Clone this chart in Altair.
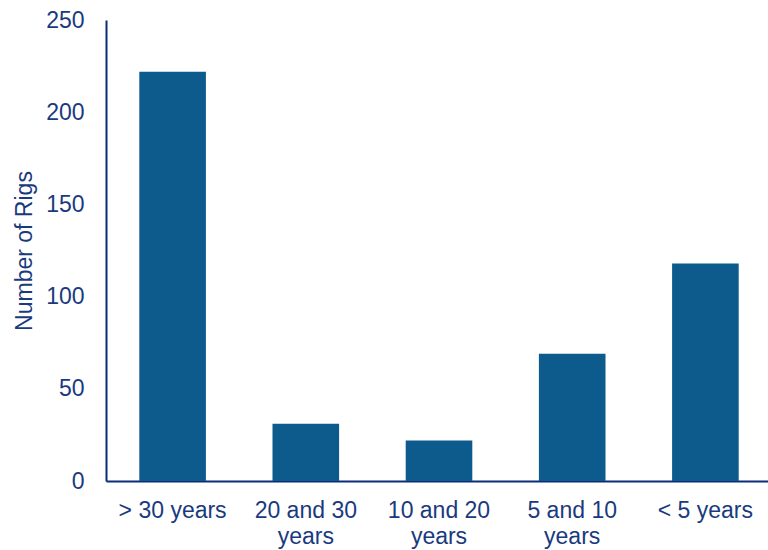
import altair as alt
import pandas as pd

# Rig counts by age bracket
age_groups = ["> 30 years", "20 and 30 years", "10 and 20 years", "5 and 10 years", "< 5 years"]
rig_counts = [222, 31, 22, 69, 118]
y_ticks = [0, 50, 100, 150, 200, 250]

df = pd.DataFrame({"age": age_groups, "rigs": rig_counts})

navy = "#0b2d78"
text_col = "#1a3a7e"
bar_col = "#0d5a8c"

chart = (
    alt.Chart(df)
    .mark_bar(color=bar_col)
    .encode(
        x=alt.X(
            "age:N",
            sort=age_groups,
            title=None,
            scale=alt.Scale(paddingInner=0.5, paddingOuter=0.25, range=[0, 666]),
            axis=alt.Axis(
                labelAngle=0,
                ticks=False,
                tickSize=0,
                labelPadding=18,
                labelFontSize=23,
                labelLineHeight=26,
                labelColor=text_col,
                labelFont="Liberation Sans",
                labelExpr="length(datum.label) > 10 ? [replace(datum.label, ' years', ''), 'years'] : datum.label",
                domainColor=navy,
                domainWidth=2,
                labelLimit=300,
            ),
        ),
        y=alt.Y(
            "rigs:Q",
            title="Number of Rigs",
            scale=alt.Scale(domain=[0, 250], nice=False),
            axis=alt.Axis(
                values=y_ticks,
                grid=False,
                ticks=False,
                tickSize=0,
                labelPadding=22,
                labelFontSize=23,
                labelColor=text_col,
                labelFont="Liberation Sans",
                domainColor=navy,
                domainWidth=2,
                titleFontSize=23,
                titleFont="Liberation Sans",
                titleFontWeight="normal",
                titleColor=text_col,
                titlePadding=9,
            ),
        ),
    )
    .properties(
        width=662,
        height=461,
        background="white",
        autosize=alt.AutoSizeParams(type="none"),
        padding={"left": 106, "top": 20, "right": 0, "bottom": 69},
    )
    .configure_view(strokeWidth=0, strokeOpacity=0)
)

chart.save("out.html", embed_options={"renderer": "svg", "actions": False})
